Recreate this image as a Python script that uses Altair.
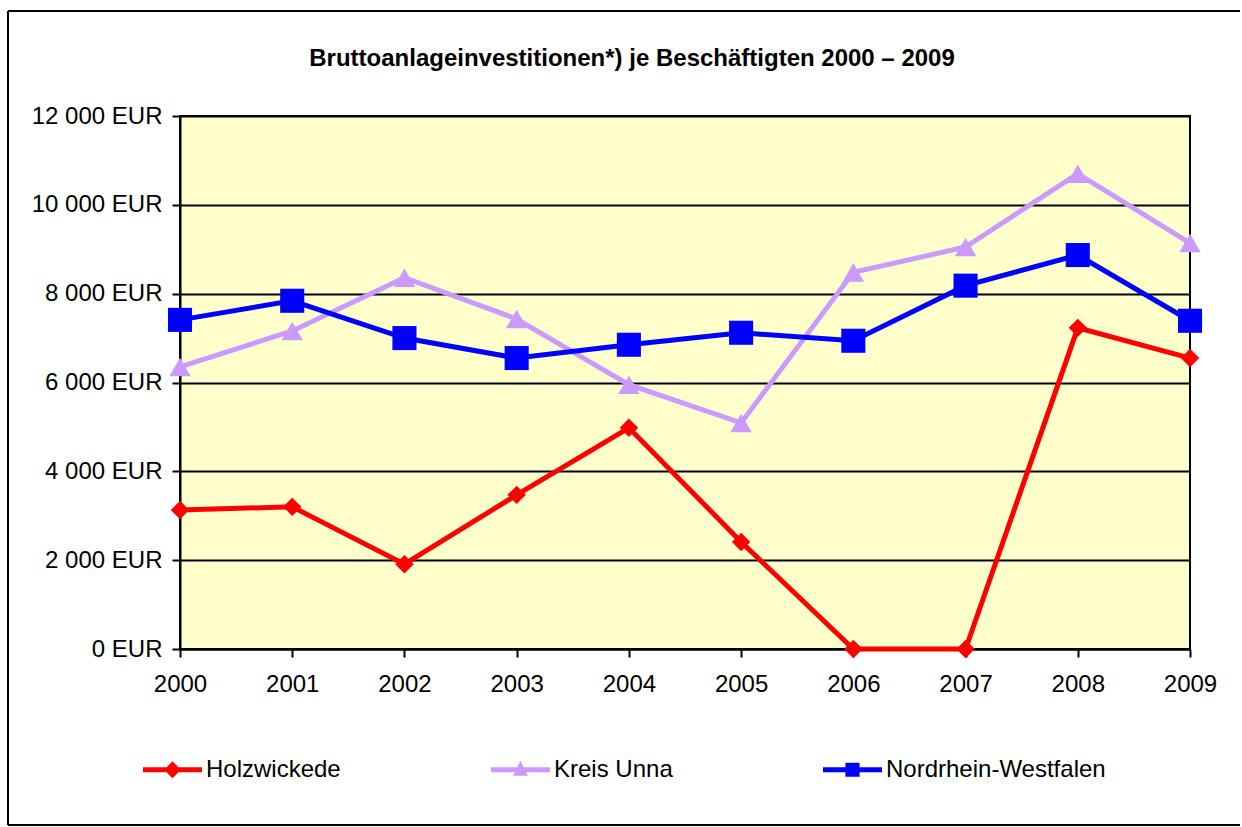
import altair as alt
import pandas as pd

years = [2000, 2001, 2002, 2003, 2004, 2005, 2006, 2007, 2008, 2009]
holzwickede = [3130, 3200, 1910, 3470, 4980, 2410, 0, 0, 7230, 6550]
kreis_unna = [6350, 7160, 8360, 7430, 5950, 5090, 8480, 9050, 10700, 9140]
nrw = [7410, 7840, 7000, 6550, 6850, 7120, 6940, 8180, 8870, 7390]

series_names = ["Holzwickede", "Kreis Unna", "Nordrhein-Westfalen"]
series_colors = ["#FF0000", "#CC99FF", "#0000FF"]
marker_shapes = ["diamond", "triangle-up", "square"]
marker_sizes = [340, 580, 330]
legend_shapes = [
    "M-1,-0.085L-0.2,-0.085L0,-0.285L0.2,-0.085L1,-0.085L1,0.085L0.2,0.085L0,0.285L-0.2,0.085L-1,0.085Z",
    "M-1,-0.085L-0.11,-0.085L0,-0.31L0.11,-0.085L1,-0.085L1,0.085L0.19,0.085L0.25,0.2L-0.25,0.2L-0.19,0.085L-1,0.085Z",
    "M-1,-0.085L-0.24,-0.085L-0.24,-0.24L0.24,-0.24L0.24,-0.085L1,-0.085L1,0.085L0.24,0.085L0.24,0.24L-0.24,0.24L-0.24,0.085L-1,0.085Z",
]

rows = []
for name, vals in zip(series_names, [holzwickede, kreis_unna, nrw]):
    for y, v in zip(years, vals):
        rows.append({"Jahr": y, "Wert": v, "Reihe": name})
df = pd.DataFrame(rows)

FONT = "Liberation Sans"

x_enc = alt.X(
    "Jahr:Q",
    scale=alt.Scale(domain=[2000, 2009], nice=False, zero=False),
    axis=alt.Axis(
        values=years, format="d", title=None, grid=False,
        tickSize=8, tickWidth=2, tickColor="black",
        domainColor="black", domainWidth=2,
        labelFont=FONT, labelFontSize=24, labelColor="black",
        labelPadding=15, labelFlush=False,
    ),
)
y_enc = alt.Y(
    "Wert:Q",
    scale=alt.Scale(domain=[0, 12000], nice=False),
    axis=alt.Axis(
        values=[0, 2000, 4000, 6000, 8000, 10000, 12000],
        labelExpr="replace(format(datum.value, ','), ',', ' ') + ' EUR'",
        title=None, grid=True, gridColor="black", gridWidth=2, gridOpacity=1,
        tickSize=8, tickWidth=2, tickColor="black",
        domainColor="black", domainWidth=2,
        labelFont=FONT, labelFontSize=24, labelColor="black",
        labelPadding=10,
    ),
)

base = alt.Chart(df)

lines = base.mark_line(strokeWidth=5).encode(
    x=x_enc, y=y_enc,
    color=alt.Color("Reihe:N", scale=alt.Scale(domain=series_names, range=series_colors), legend=None),
)

points = base.mark_point(filled=True, opacity=1).encode(
    x=x_enc, y=y_enc,
    color=alt.Color("Reihe:N", scale=alt.Scale(domain=series_names, range=series_colors), legend=None),
    shape=alt.Shape("Reihe:N", scale=alt.Scale(domain=series_names, range=marker_shapes), legend=None),
    size=alt.Size("Reihe:N", scale=alt.Scale(domain=series_names, range=marker_sizes), legend=None),
)

legend_layer = base.transform_filter("false").mark_point(filled=True, opacity=1, size=3481).encode(
    x=x_enc, y=y_enc,
    color=alt.Color(
        "Reihe:N", scale=alt.Scale(domain=series_names, range=series_colors),
        legend=alt.Legend(
            title=None, orient="none", direction="horizontal",
            legendX=-37, legendY=624, padding=0,
            columnPadding=150, labelOffset=4, labelLimit=500,
            labelFont=FONT, labelFontSize=24, labelColor="black",
            symbolSize=3481, symbolStrokeWidth=0, symbolOpacity=1,
        ),
    ),
    shape=alt.Shape("Reihe:N", scale=alt.Scale(domain=series_names, range=legend_shapes), legend=None),
)

frame_df = pd.DataFrame({"k": [0]})
frame_left = alt.Chart(frame_df).mark_rule(color="black", strokeWidth=2).encode(
    x=alt.value(-172), y=alt.value(-105), y2=alt.value(709)
)
frame_top = alt.Chart(frame_df).mark_rule(color="black", strokeWidth=2).encode(
    x=alt.value(-172), x2=alt.value(1060), y=alt.value(-105)
)
frame_bottom = alt.Chart(frame_df).mark_rule(color="black", strokeWidth=2).encode(
    x=alt.value(-172), x2=alt.value(1060), y=alt.value(709)
)

chart = alt.layer(frame_left, frame_top, frame_bottom, lines, points, legend_layer).resolve_scale(
    color="independent", shape="independent", size="independent"
).properties(
    width=1010, height=533,
    padding={"left": 7, "top": 10, "right": 0, "bottom": 0},
    background="white",
    title=alt.TitleParams(
        text="Bruttoanlageinvestitionen*) je Beschäftigten 2000 – 2009",
        font=FONT, fontSize=24, fontWeight="bold", color="black",
        anchor="middle", dx=-53, offset=-61,
    ),
).configure_view(
    fill="#FFFFCC", stroke="black", strokeWidth=2
)

chart.save("out.html", embed_options={"renderer": "svg", "actions": False})
